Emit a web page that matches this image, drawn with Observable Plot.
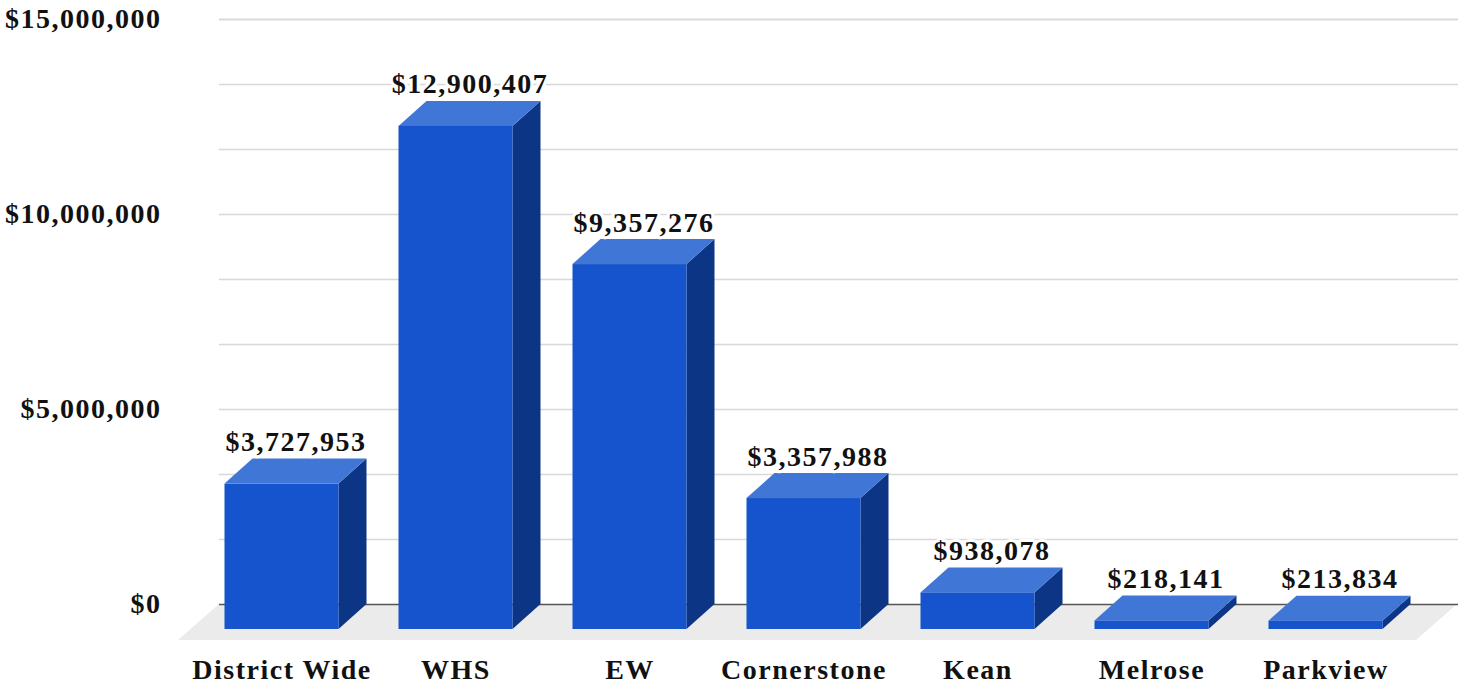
<!DOCTYPE html>
<html><head><meta charset="utf-8">
<script src="https://cdn.jsdelivr.net/npm/d3@7"></script>
<script src="https://cdn.jsdelivr.net/npm/@observablehq/plot@0.6"></script>
<style>
html,body{margin:0;padding:0;background:#fff;}
#chart svg{display:block;}
</style></head><body><div id="chart"></div>
<script>
// ---- data ----
const categories = ["District Wide", "WHS", "EW", "Cornerstone", "Kean", "Melrose", "Parkview"];
const values = [3727953, 12900407, 9357276, 3357988, 938078, 218141, 213834];
const yTickValues = [0, 5000000, 10000000, 15000000];
const gridValues = d3.range(1, 10).map(k => k * 5000000 / 3);

// ---- layout ----
const W = 1465, H = 686;
const margin = {left: 219, right: 7, top: 19, bottom: 82};
const xDomain = [0, categories.length - 1];
const xRange = [281.5, 1325.5];
const yDomain = [0, 15000000];
const pxPerX = (xRange[1] - xRange[0]) / (xDomain[1] - xDomain[0]);
const pxPerY = (H - margin.bottom - margin.top) / (yDomain[1] - yDomain[0]);
const xInv = px => xDomain[0] + (px - xRange[0]) / pxPerX;
const depthXpx = 28, depthYpx = 25;
const depthX = depthXpx / pxPerX, depthY = depthYpx / pxPerY;
const half = 57 / pxPerX;

const bars = categories.map((c, i) => ({i, c, v: values[i]}));
const tops = bars.flatMap(d => [
  {c: d.c, y: d.v - depthY, x1: d.i - half, x2: d.i + half},
  {c: d.c, y: d.v, x1: d.i - half + depthX, x2: d.i + half + depthX}
]);
const sides = bars.flatMap(d => [
  {c: d.c, x: d.i + half, y1: -depthY, y2: d.v - depthY},
  {c: d.c, x: d.i + half + depthX, y1: 0, y2: d.v}
]);
const floorDepth = 36 / pxPerY;
const floorBackL = xInv(margin.left), floorBackR = xInv(1457);
const floorShift = 41 / pxPerX;
const floor = [
  {y: 0, x1: floorBackL, x2: floorBackR},
  {y: -floorDepth, x1: floorBackL - floorShift, x2: floorBackR - floorShift}
];

const fmt = d3.format("$,");
const font = "'Liberation Serif', 'Times New Roman', serif";
const fs = 28;

const chart = Plot.plot({
  width: W, height: H,
  marginLeft: margin.left, marginRight: margin.right, marginTop: margin.top, marginBottom: margin.bottom,
  style: {fontFamily: font, background: "#fff", color: "#111", letterSpacing: "1.5px"},
  x: {type: "linear", domain: xDomain, range: xRange},
  y: {type: "linear", domain: yDomain},
  marks: [
    Plot.gridY(gridValues, {stroke: "#d8d8d8", strokeOpacity: 1, strokeWidth: 1.5}),
    Plot.gridY([15000000], {stroke: "#d8d8d8", strokeOpacity: 1, strokeWidth: 1.5}),
    Plot.areaX(floor, {y: "y", x1: "x1", x2: "x2", fill: "#ebebeb"}),
    Plot.ruleY([0], {stroke: "#555", strokeWidth: 1.5}),
    Plot.areaY(sides, {x: "x", y1: "y1", y2: "y2", z: "c", fill: "#0d3585"}),
    Plot.areaX(tops, {y: "y", x1: "x1", x2: "x2", z: "c", fill: "#4077d6"}),
    Plot.rect(bars, {x1: d => d.i - half, x2: d => d.i + half, y1: 0, y2: "v", dy: depthYpx, fill: "#1554cc"}),
    Plot.text(bars, {x: "i", y: "v", text: d => fmt(d.v), dx: depthXpx / 2, dy: -8, lineAnchor: "bottom",
      fontSize: fs, fontWeight: "bold", fill: "#111", stroke: "white", strokeWidth: 6}),
    Plot.axisY({ticks: yTickValues, tickFormat: fmt, tickSize: 0, tickPadding: 58, label: null,
      fontSize: fs, fontWeight: "bold"}),
    Plot.axisX({ticks: d3.range(categories.length), tickFormat: i => categories[i], tickSize: 0,
      tickPadding: 55, label: null, fontSize: fs, fontWeight: "bold"})
  ]
});
document.getElementById("chart").append(chart);
</script></body></html>
